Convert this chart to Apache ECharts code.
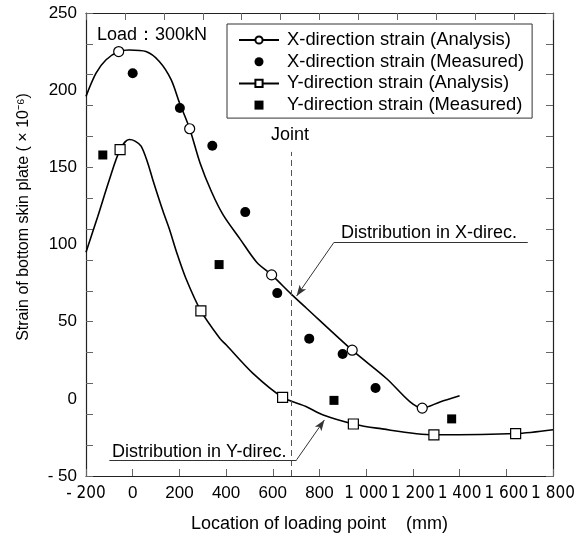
<!DOCTYPE html>
<html lang="en">
<head>
    <meta charset="UTF-8">
    <title>Strain of bottom skin plate</title>
    <script src="https://cdn.jsdelivr.net/npm/echarts@6/dist/echarts.min.js"></script>
    <style>
        html, body { margin: 0; padding: 0; background: #fff; }
        #main { width: 584px; height: 538px; }
    </style>
</head>
<body>
    <div id="main"></div>
    <script>
        // 读图得到的数据 (mm, ×10^-6)
        var xAnaCurve = [[-200, 196], [-157, 211], [-114, 219.7], [-15, 226], [57, 225], [114, 218.6], [164, 207],
            [200, 192], [288, 153], [338, 134], [388, 119], [460, 103.5], [531, 88.5], [678, 68], [742, 59],
            [1088, 13], [1188, -2], [1316, -2], [1400, 2]];
        var xAnaPts = [[-60, 225], [244, 175], [595, 80.3], [940, 31.5], [1240, -6]];
        var xMeasured = [[0, 211], [202, 188.5], [341, 164], [482, 121], [619, 68.5], [756, 39], [899, 29], [1040, 7]];

        var yAnaCurve = [[-200, 95], [-150, 118], [-100, 142], [-15, 168], [10, 167], [36, 163.7], [64, 153],
            [86, 142], [131, 121], [157, 110], [188, 95], [228, 78], [374, 39], [400, 35], [515, 16.5],
            [742, -5], [816, -10.5], [1045, -19], [1800, -20]];
        var yAnaPts = [[-54, 161.5], [292, 57], [642, 1], [945, -16.3], [1290, -23.3], [1640, -22.5]];
        var yMeasured = [[-128, 158], [370, 87], [862, -1], [1366, -13]];

        var jointX = 680;
        var seriesNames = ['X-direction strain (Analysis)', 'X-direction strain (Measured)',
            'Y-direction strain (Analysis)', 'Y-direction strain (Measured)'];

        var FONT = "'Liberation Sans', Arial, sans-serif";
        var NARROW = "'Liberation Sans Narrow', 'DejaVu Sans Condensed', " + FONT;

        // 曲线点 + 标记点 合并
        function buildAna(curve, pts) {
            var items = curve.map(function (p) { return { value: p, symbol: 'none' }; });
            pts.forEach(function (p) { items.push({ value: p }); });
            items.sort(function (a, b) { return a.value[0] - b.value[0]; });
            return items;
        }

        function fmtX(v) {
            if (v < 0) return '{n|- ' + (-v) + '}';
            if (v >= 1000) return '{n|' + Math.floor(v / 1000) + ' ' + String(v % 1000).padStart(3, '0') + '}';
            return String(v);
        }

        var myChart = echarts.init(document.getElementById('main'));
        var lineCol = '#222';
        var tickCol = '#666';
        var annoStyle = { color: '#333', width: 1, type: 'solid' };
        var axisLineOpt = { show: true, onZero: false, lineStyle: { color: lineCol, width: 1.2 } };

        var option = {
            animation: false,
            grid: { left: 86, right: 31, top: 13, bottom: 60 },
            legend: {
                orient: 'vertical',
                left: 227, top: 24,
                padding: [7, 8, 4, 11],
                itemGap: 3.7,
                itemWidth: 40, itemHeight: 9,
                borderColor: '#333', borderWidth: 1,
                backgroundColor: '#fff',
                selectedMode: false,
                textStyle: { fontFamily: FONT, fontSize: 18.4, color: '#000', padding: [0, 0, 0, 3] },
                data: [
                    { name: seriesNames[0] },
                    { name: seriesNames[1] },
                    { name: seriesNames[2] },
                    { name: seriesNames[3], icon: 'path://M0,0H10V10H0Z' }
                ]
            },
            xAxis: [{
                type: 'value', position: 'bottom',
                min: -200, max: 1800, interval: 200,
                name: 'Location of loading point    (mm)',
                nameLocation: 'middle', nameGap: 39,
                nameTextStyle: { fontFamily: FONT, fontSize: 18, color: '#000' },
                axisLine: axisLineOpt,
                axisTick: { show: true, inside: true, length: 7, lineStyle: { color: tickCol } },
                axisLabel: {
                    formatter: fmtX, margin: 9, fontFamily: FONT, fontSize: 17, color: '#000',
                    showMinLabel: true, showMaxLabel: true,
                    rich: { n: { fontFamily: NARROW, fontSize: 17, color: '#000' } }
                },
                splitLine: { show: false }
            }, {
                type: 'value', position: 'top',
                min: -200, max: 1800, interval: 2000 / 12,
                axisLine: axisLineOpt,
                axisTick: { show: true, inside: true, length: 7, lineStyle: { color: tickCol } },
                axisLabel: { show: false },
                splitLine: { show: false }
            }],
            yAxis: [{
                type: 'value', position: 'left',
                min: -50, max: 250, interval: 50,
                axisLine: axisLineOpt,
                axisTick: { show: false },
                axisLabel: {
                    margin: 9, fontFamily: FONT, fontSize: 17, color: '#000',
                    formatter: function (v) { return v < 0 ? '- ' + (-v) : String(v); }
                },
                splitLine: { show: false }
            }, {
                type: 'value', position: 'right',
                min: -50, max: 250, interval: 20,
                axisLine: axisLineOpt,
                axisTick: { show: true, inside: true, length: 7, lineStyle: { color: tickCol } },
                axisLabel: { show: false },
                splitLine: { show: false }
            }, {
                type: 'value', position: 'left', offset: 0,
                min: -50, max: 250, interval: 20,
                axisLine: { show: false, onZero: false },
                axisTick: { show: true, inside: true, length: 7, lineStyle: { color: tickCol } },
                axisLabel: { show: false },
                splitLine: { show: false }
            }],
            graphic: [
                { type: 'text', x: 24, y: 217, rotation: Math.PI / 2,
                  style: { text: 'Strain of bottom skin plate ( × 10⁻⁶)', fontFamily: FONT, fontSize: 16, fill: '#000', align: 'center', verticalAlign: 'middle' } },
                { type: 'text', x: 97, y: 35,
                  style: { text: 'Load：300kN', fontFamily: FONT, fontSize: 18, fill: '#000', align: 'left', verticalAlign: 'middle' } },
                { type: 'text', x: 271, y: 135,
                  style: { text: 'Joint', fontFamily: FONT, fontSize: 18, fill: '#000', align: 'left', verticalAlign: 'middle' } },
                { type: 'text', x: 341, y: 233,
                  style: { text: 'Distribution in X-direc.', fontFamily: FONT, fontSize: 18, fill: '#000', align: 'left', verticalAlign: 'middle' } },
                { type: 'text', x: 112, y: 452,
                  style: { text: 'Distribution in Y-direc.', fontFamily: FONT, fontSize: 18, fill: '#000', align: 'left', verticalAlign: 'middle' } }
            ],
            series: [{
                name: seriesNames[0],
                type: 'line',
                smooth: 0.3,
                showSymbol: true, showAllSymbol: true,
                symbol: 'circle', symbolSize: 10,
                itemStyle: { color: '#fff', borderColor: '#000', borderWidth: 1.2, opacity: 1 },
                lineStyle: { color: '#000', width: 1.6 },
                data: buildAna(xAnaCurve, xAnaPts),
                z: 3,
                markLine: {
                    silent: true, animation: false,
                    label: { show: false },
                    symbol: ['none', 'none'],
                    data: [
                        [{ coord: [jointX, -50], lineStyle: { color: '#555', width: 1, type: [6, 4] } }, { coord: [jointX, 160] }],
                        [{ coord: [862, 101.4], lineStyle: annoStyle }, { coord: [1692, 101.4] }],
                        [{ coord: [862, 101.4], lineStyle: annoStyle }, { coord: [702, 66.6], symbol: 'arrow', symbolSize: [6, 11] }],
                        [{ coord: [-100, -39.5], lineStyle: annoStyle }, { coord: [702, -39.5] }],
                        [{ coord: [702, -39.5], lineStyle: annoStyle }, { coord: [821, -13.7], symbol: 'arrow', symbolSize: [6, 11] }]
                    ]
                }
            }, {
                name: seriesNames[1],
                type: 'scatter',
                symbol: 'circle', symbolSize: 10,
                itemStyle: { color: '#000', opacity: 1 },
                data: xMeasured,
                z: 4
            }, {
                name: seriesNames[2],
                type: 'line',
                smooth: 0.3,
                showSymbol: true, showAllSymbol: true,
                symbol: 'rect', symbolSize: 10,
                itemStyle: { color: '#fff', borderColor: '#000', borderWidth: 1.2, opacity: 1 },
                lineStyle: { color: '#000', width: 1.6 },
                data: buildAna(yAnaCurve, yAnaPts),
                z: 3
            }, {
                name: seriesNames[3],
                type: 'scatter',
                symbol: 'rect', symbolSize: 9,
                itemStyle: { color: '#000', opacity: 1 },
                data: yMeasured,
                z: 4
            }]
        };
        myChart.setOption(option);
    </script>
</body>
</html>
